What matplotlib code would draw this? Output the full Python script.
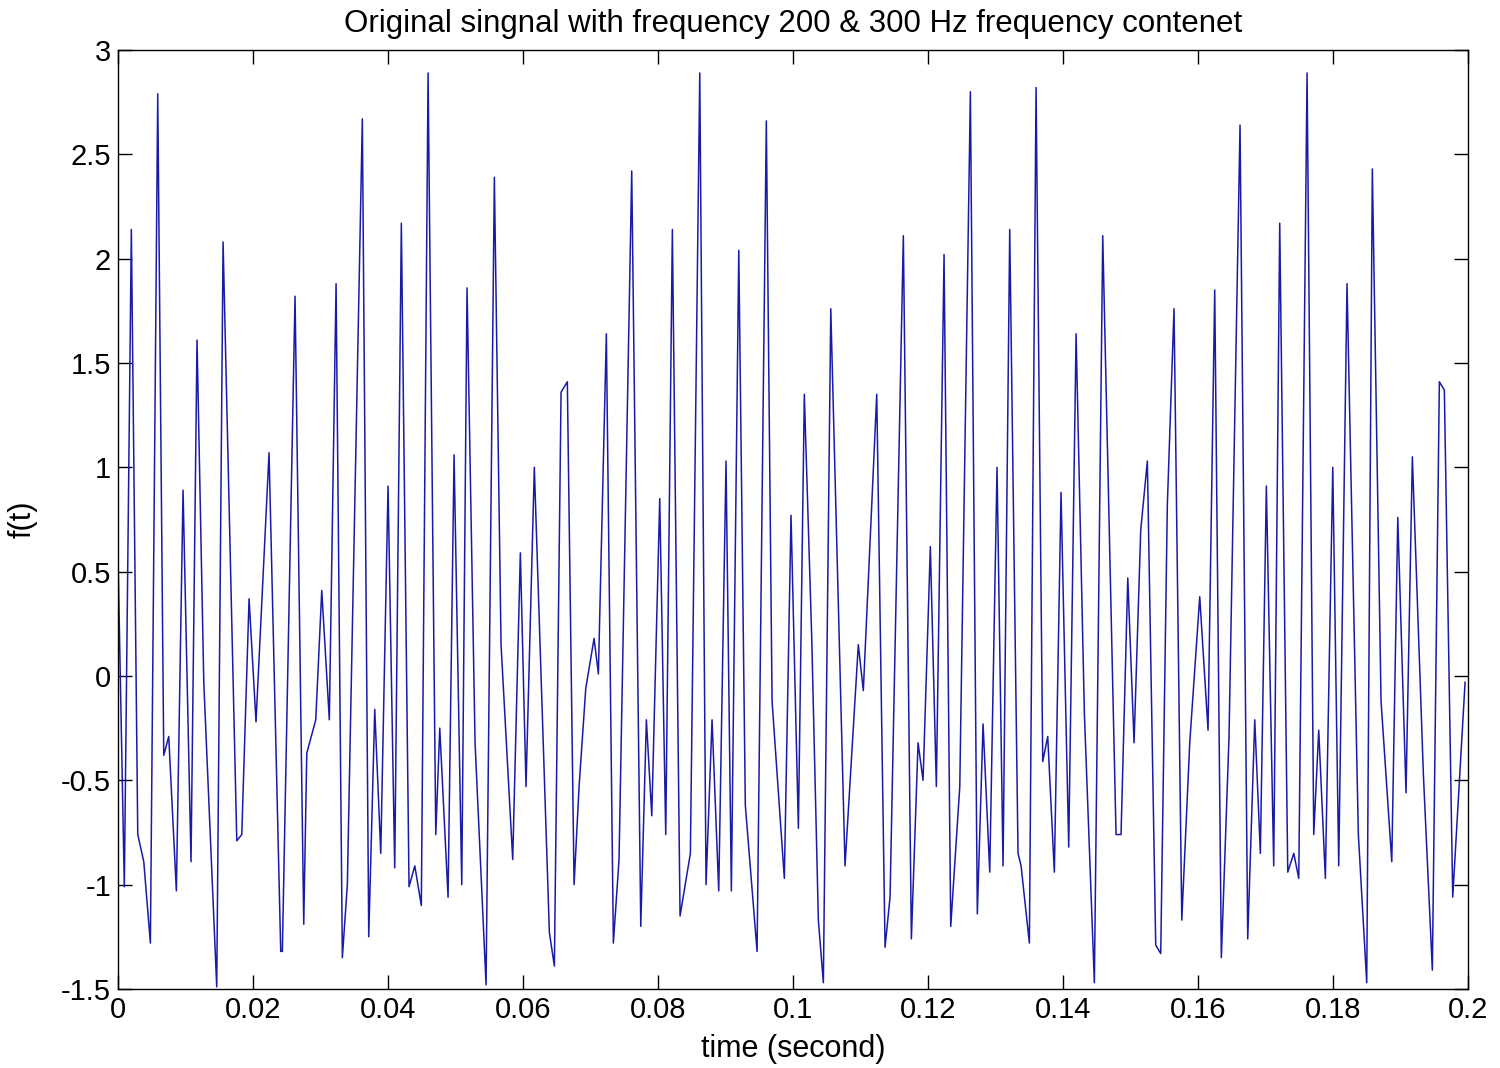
import matplotlib
matplotlib.use("Agg")
import matplotlib.pyplot as plt
import numpy as np

time_s = [
    0.00000, 0.00093, 0.00197, 0.00292, 0.00381, 0.00479, 0.00588, 0.00677, 0.00751, 0.00864,
    0.00963, 0.01081, 0.01170, 0.01270, 0.01462, 0.01556, 0.01759, 0.01833, 0.01941, 0.02044,
    0.02237, 0.02410, 0.02434, 0.02622, 0.02751, 0.02796, 0.02929, 0.03018, 0.03130, 0.03230,
    0.03323, 0.03397, 0.03619, 0.03714, 0.03803, 0.03892, 0.04000, 0.04099, 0.04197, 0.04311,
    0.04396, 0.04493, 0.04593, 0.04707, 0.04766, 0.04889, 0.04978, 0.05092, 0.05170, 0.05289,
    0.05452, 0.05575, 0.05674, 0.05847, 0.05960, 0.06044, 0.06167, 0.06390, 0.06464, 0.06563,
    0.06656, 0.06756, 0.06830, 0.06929, 0.07052, 0.07116, 0.07234, 0.07338, 0.07422, 0.07610,
    0.07744, 0.07827, 0.07907, 0.08025, 0.08114, 0.08212, 0.08326, 0.08479, 0.08618, 0.08711,
    0.08800, 0.08899, 0.09007, 0.09086, 0.09196, 0.09293, 0.09467, 0.09604, 0.09689, 0.09871,
    0.09970, 0.10079, 0.10167, 0.10277, 0.10375, 0.10449, 0.10559, 0.10770, 0.10967, 0.11041,
    0.11240, 0.11363, 0.11437, 0.11634, 0.11753, 0.11852, 0.11926, 0.12034, 0.12123, 0.12237,
    0.12336, 0.12470, 0.12627, 0.12730, 0.12815, 0.12914, 0.13022, 0.13111, 0.13210, 0.13333,
    0.13378, 0.13501, 0.13600, 0.13699, 0.13773, 0.13871, 0.13970, 0.14084, 0.14193, 0.14316,
    0.14464, 0.14588, 0.14785, 0.14859, 0.14959, 0.15052, 0.15151, 0.15249, 0.15373, 0.15447,
    0.15545, 0.15644, 0.15759, 0.15877, 0.16025, 0.16148, 0.16247, 0.16345, 0.16459, 0.16622,
    0.16736, 0.16840, 0.16923, 0.17012, 0.17121, 0.17210, 0.17329, 0.17418, 0.17492, 0.17615,
    0.17714, 0.17788, 0.17886, 0.17996, 0.18084, 0.18207, 0.18375, 0.18499, 0.18582, 0.18711,
    0.18870, 0.18959, 0.19081, 0.19175, 0.19338, 0.19471, 0.19575, 0.19649, 0.19773, 0.19956,
]
signal = [
    0.56, -1.01, 2.14, -0.76, -0.89, -1.28, 2.79, -0.38, -0.29, -1.03,
    0.89, -0.89, 1.61, -0.03, -1.49, 2.08, -0.79, -0.76, 0.37, -0.22,
    1.07, -1.32, -1.32, 1.82, -1.19, -0.37, -0.21, 0.41, -0.21, 1.88,
    -1.35, -1.00, 2.67, -1.25, -0.16, -0.85, 0.91, -0.92, 2.17, -1.01,
    -0.91, -1.10, 2.89, -0.76, -0.25, -1.06, 1.06, -1.00, 1.86, -0.32,
    -1.48, 2.39, 0.15, -0.88, 0.59, -0.53, 1.00, -1.23, -1.39, 1.36,
    1.41, -1.00, -0.53, -0.06, 0.18, 0.01, 1.64, -1.28, -0.88, 2.42,
    -1.20, -0.21, -0.67, 0.85, -0.76, 2.14, -1.15, -0.85, 2.89, -1.00,
    -0.21, -1.03, 1.03, -1.03, 2.04, -0.62, -1.32, 2.66, -0.12, -0.97,
    0.77, -0.73, 1.35, 0.18, -1.17, -1.47, 1.76, -0.91, 0.15, -0.07,
    1.35, -1.30, -1.06, 2.11, -1.26, -0.32, -0.50, 0.62, -0.53, 2.02,
    -1.20, -0.53, 2.80, -1.14, -0.23, -0.94, 1.00, -0.91, 2.14, -0.85,
    -0.91, -1.28, 2.82, -0.41, -0.29, -0.94, 0.88, -0.82, 1.64, -0.18,
    -1.47, 2.11, -0.76, -0.76, 0.47, -0.32, 0.70, 1.03, -1.29, -1.33,
    0.82, 1.76, -1.17, -0.32, 0.38, -0.26, 1.85, -1.35, -0.29, 2.64,
    -1.26, -0.21, -0.85, 0.91, -0.91, 2.17, -0.94, -0.85, -0.97, 2.89,
    -0.76, -0.26, -0.97, 1.00, -0.91, 1.88, -0.76, -1.47, 2.43, -0.12,
    -0.89, 0.76, -0.56, 1.05, -0.47, -1.41, 1.41, 1.37, -1.06, -0.03,
]

x_ticks = np.round(np.arange(0, 0.2001, 0.02), 2)
x_labels = ["0", "0.02", "0.04", "0.06", "0.08", "0.1", "0.12", "0.14", "0.16", "0.18", "0.2"]
y_ticks = np.arange(-1.5, 3.01, 0.5)
y_labels = ["-1.5", "-1", "-0.5", "0", "0.5", "1", "1.5", "2", "2.5", "3"]

plt.rcParams["font.family"] = ["Liberation Sans", "DejaVu Sans"]
plt.rcParams["axes.unicode_minus"] = False

fig = plt.figure(figsize=(15, 10.68), dpi=100)
ax = fig.add_axes([0.0787, 0.0740, 0.9, 0.8792])

ax.plot(time_s, signal, color="#1a1aa8", linewidth=1.1)

ax.set_xlim(0, 0.2)
ax.set_ylim(-1.5, 3)
ax.set_xticks(x_ticks)
ax.set_xticklabels(x_labels)
ax.set_yticks(y_ticks)
ax.set_yticklabels(y_labels)
ax.tick_params(direction="in", length=10, width=1, labelsize=21,
               top=True, right=True, pad=5)
for spine in ax.spines.values():
    spine.set_linewidth(1.0)

ax.set_title("Original singnal with frequency 200 & 300 Hz frequency contenet",
             fontsize=22.5, pad=13)
ax.set_xlabel("time (second)", fontsize=22, labelpad=7)
ax.set_ylabel("f(t)", fontsize=22, labelpad=17)

fig.savefig("out.png", dpi=100)
plt.close(fig)
